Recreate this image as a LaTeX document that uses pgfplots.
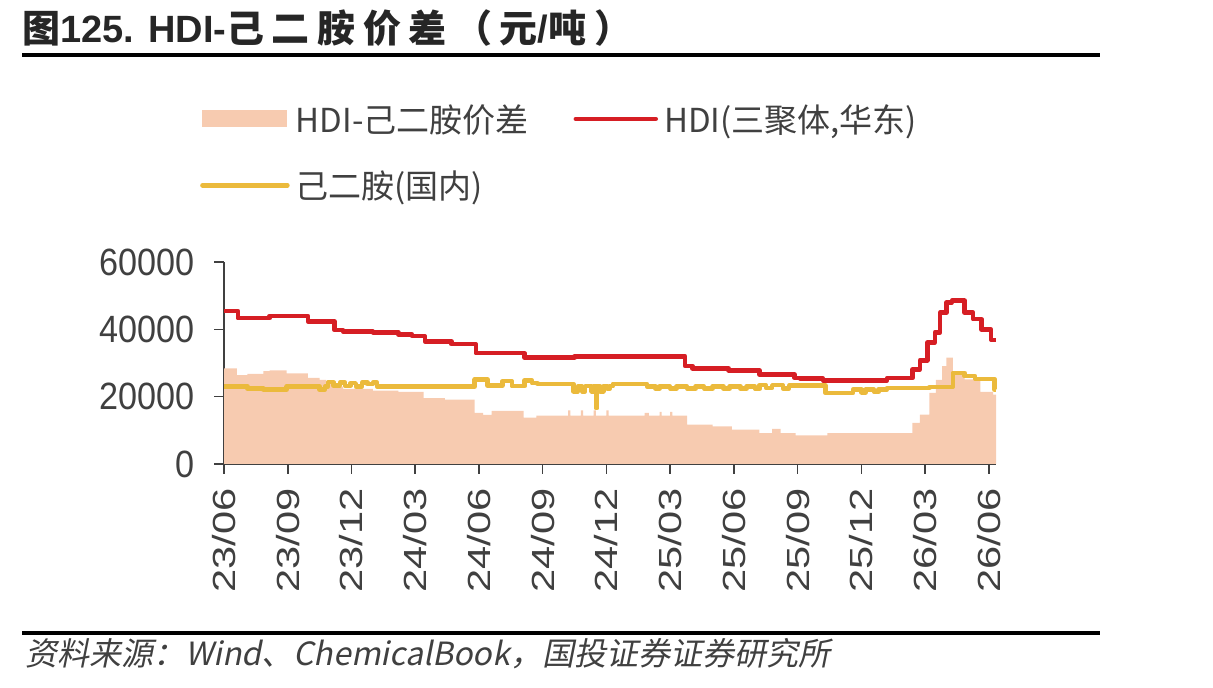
\documentclass[border=0pt]{standalone}
\usepackage{pgfplots}
\pgfplotsset{compat=1.18}
\usepackage{fontspec}
\setmainfont{Liberation Sans}
\newfontfamily\cjk{Noto Sans CJK SC}
\newfontfamily\titlefont[LetterSpace=20]{Noto Sans CJK SC}
\newfontfamily\ytickfont[FakeStretch=0.9]{Liberation Sans}
\newfontfamily\xtickfont[FakeStretch=1.3]{Liberation Sans}
\newfontfamily\srcfont[FakeSlant=0.2]{Noto Sans CJK SC}
\definecolor{hdired}{RGB}{214,30,36}
\definecolor{hdayel}{RGB}{235,186,60}
\definecolor{areac}{RGB}{247,203,176}
\definecolor{txt}{RGB}{64,64,64}

\pgfplotstableread{
x y
0 28400
0.6 26400
1.1 26800
1.85 27600
2.15 27800
2.95 26900
3.95 25600
4.5 25000
4.8 24300
5.1 23600
5.4 23000
5.6 22300
7.0 21800
8.2 21400
9.4 19600
10.4 19100
11.8 15200
12.2 14600
12.6 15800
14.1 13800
14.7 14400
16.2 15900
16.3 14400
16.8 15900
16.9 14400
17.4 15900
17.5 14400
18.0 15900
18.1 14400
19.8 15200
20.0 14400
20.5 15500
20.6 14400
21.0 15500
21.1 14400
21.8 11700
23.0 11200
23.9 10200
25.2 9200
25.8 10400
26.2 9200
26.9 8500
28.4 9200
32.4 12200
32.75 14700
33.2 21100
33.5 25000
33.8 29100
34.0 31600
34.3 27600
34.85 25100
35.6 21400
36.2 20600
36.33 20600
}\spread

\pgfplotstableread{
x y
0 45500
0.65 43300
2.15 44000
3.95 42400
5.2 39800
5.6 39400
7.0 39100
8.2 38500
8.85 38000
9.45 36400
10.7 35600
11.85 32900
14.15 31600
16.5 32000
21.7 29100
22.05 28400
23.75 27800
25.2 26600
26.85 25600
27.1 25400
28.2 24800
31.2 25500
32.4 28100
32.75 30800
33.1 36100
33.45 39100
33.7 45000
34.0 48000
34.25 48500
34.85 45000
35.25 43000
35.65 39900
36.1 36900
36.33 36900
}\hdi

\pgfplotstableread{
x y
0 23000
1.1 22400
1.85 22100
2.95 23000
4.5 22100
4.75 23000
4.9 24300
5.15 23300
5.45 24200
5.7 23200
5.95 24000
6.2 23000
6.5 24200
6.75 23700
7.0 24200
7.2 23000
11.8 25100
12.4 23300
13.1 24600
13.55 23100
14.15 24800
14.5 24000
14.75 23800
16.45 21600
16.65 23100
16.85 21600
17.0 23100
17.3 21600
17.4 23100
17.5 16600
17.56 23100
17.7 21600
17.85 23100
18.05 22300
18.15 23100
18.3 23800
19.9 23000
20.3 22400
20.5 23000
21.0 22400
21.3 23000
21.8 22400
22.2 23000
22.6 22400
23.0 23000
23.5 22400
23.8 23000
24.3 22400
24.6 23000
25.0 22300
25.2 23400
25.5 22600
25.8 23400
26.3 22500
26.6 23300
28.3 21100
29.6 22100
30.0 21300
30.2 22100
30.6 21400
30.8 22100
31.2 22600
33.2 22900
34.3 27100
34.85 26100
35.35 25300
36.25 22100
36.33 22100
}\hda

\begin{document}
\begin{tikzpicture}[x=1pt,y=1pt]
\path[use as bounding box] (0,0) rectangle (1213,688);
\node[anchor=base west, inner sep=0pt, text=black!85] at (22,645) {\fontsize{38}{40}\selectfont\bfseries{\titlefont 图}125. HDI-{\titlefont 己二胺价差（元}/{\titlefont 吨）}};
\draw[line width=3.5pt] (22,633) -- (1100,633);
\draw[line width=3.5pt] (22,55) -- (1100,55);
\node[anchor=base west, inner sep=0pt, text=txt] at (25,22) {\srcfont\fontsize{32}{34}\selectfont 资料来源：Wind、ChemicalBook，国投证券证券研究所};
\begin{axis}[
  at={(224pt,224pt)}, anchor=south west,
  scale only axis, width=772pt, height=202pt,
  xmin=0, xmax=36.33, ymin=0, ymax=60000,
  scaled y ticks=false,
  axis x line=bottom, axis y line=left,
  axis line style={-, draw=txt, line width=1.5pt},
  tick style={draw=txt, line width=1.5pt},
  major tick length=10pt, tick align=outside,
  xtick={0,3,...,36},
  xticklabels={23/06,23/09,23/12,24/03,24/06,24/09,24/12,25/03,25/06,25/09,25/12,26/03,26/06},
  ytick={0,20000,40000,60000},
  yticklabels={0,20000,40000,60000},
  xticklabel style={yshift=-14pt, rotate=90, anchor=east, inner sep=0pt, text=txt, font=\xtickfont\fontsize{32}{32}\selectfont},
  yticklabel style={anchor=east, inner sep=0pt, text=txt, font=\ytickfont\fontsize{38}{38}\selectfont, xshift=-19pt},
  legend columns=2,
  legend cell align=left,
  legend style={at={(-0.0311,1.782)}, anchor=north west, draw=none, fill=none, inner sep=0pt,
    font=\cjk\fontsize{33}{36}\selectfont, text=txt,
    nodes={inner sep=0pt},
    /tikz/every odd column/.append style={column sep=6pt},
    /tikz/every even column/.append style={column sep=45pt},
    row sep=37pt},
  clip=false,
]
\addplot[const plot, fill=areac, draw=none,
  legend image code/.code={\fill[areac] (0pt,-8.5pt) rectangle (85pt,8.5pt);}] table {\spread} \closedcycle;
\addlegendentry{HDI-己二胺价差}
\addplot[const plot, draw=hdired, line width=4.5pt, line join=round,
  legend image code/.code={\draw[hdired, line width=4.5pt, line cap=round] (0pt,0pt) -- (80pt,0pt);}] table {\hdi};
\addlegendentry{HDI(三聚体,华东)}
\addplot[const plot, draw=hdayel, line width=4.5pt, line join=round,
  legend image code/.code={\draw[hdayel, line width=4.5pt, line cap=round] (0pt,0pt) -- (85pt,0pt);}] table {\hda};
\addlegendentry{己二胺(国内)}
\end{axis}
\end{tikzpicture}
\end{document}
